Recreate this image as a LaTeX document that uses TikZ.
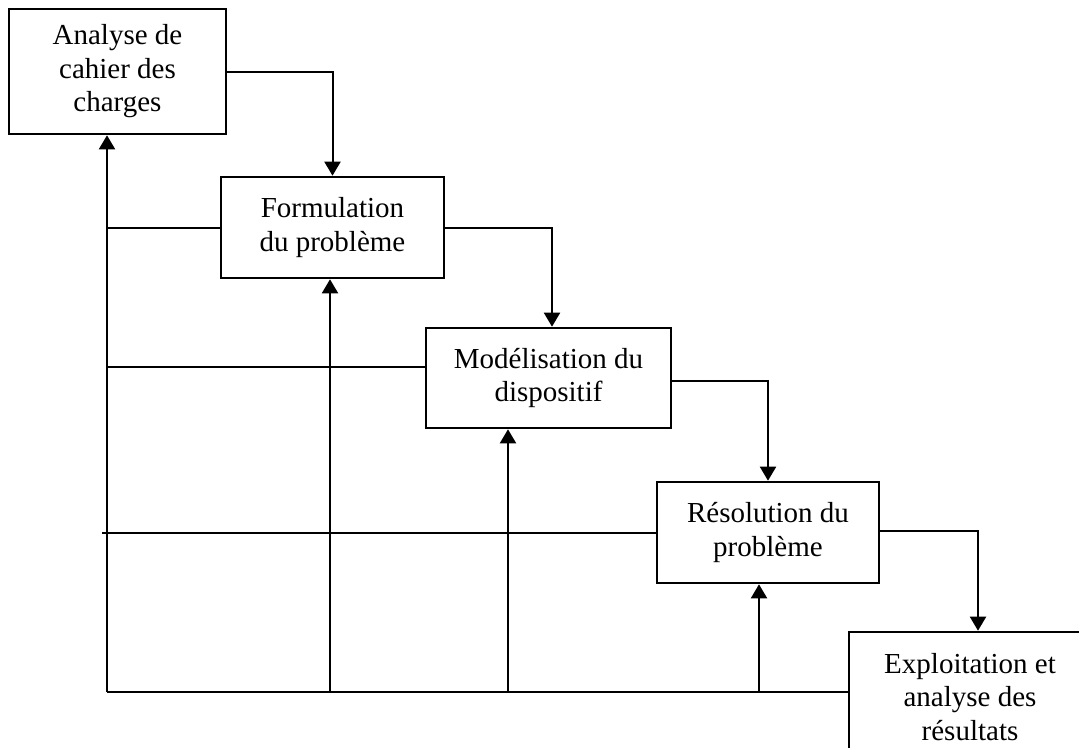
\documentclass[tikz,border=0pt]{standalone}
\usepackage{fontspec}
\setmainfont{Liberation Serif}
\usetikzlibrary{arrows.meta}

\tikzset{
  stage/.style={draw, line width=2.6pt, inner sep=0pt, align=center,
    font=\fontsize{29}{33.5}\selectfont, fill=white},
  link/.style={line width=2pt},
  arr/.style={link, -{Triangle[length=14pt, width=16pt]}}
}

\begin{document}
\begin{tikzpicture}[x=1pt, y=-1pt]
  \useasboundingbox (0,0) rectangle (1079,747);
  \clip (0,0) rectangle (1079,747);

  % process stages
  \node[stage, minimum width=217pt, minimum height=125pt] (b1) at (117.5,71.5)
    {Analyse de\\cahier des\\charges};
  \node[stage, minimum width=223pt, minimum height=101pt] (b2) at (332.5,227.5)
    {Formulation\\du problème};
  \node[stage, minimum width=245pt, minimum height=100pt] (b3) at (548.5,378)
    {Modélisation du\\dispositif};
  \node[stage, minimum width=222pt, minimum height=101pt] (b4) at (768,532.5)
    {Résolution du\\problème};
  \node[stage, minimum width=242pt, minimum height=130pt] (b5) at (970,697)
    {Exploitation et\\analyse des\\résultats};

  % forward flow
  \draw[arr] (b1.east) -| (b2.north);
  \draw[arr] (b2.east) -| ([xshift=3.5pt]b3.north);
  \draw[arr] ([yshift=-3pt]b3.east) -| (b4.north);
  \draw[arr] ([yshift=1.5pt]b4.east) -| ([xshift=8pt]b5.north);

  % feedback network
  \coordinate (spine) at (107,692);
  \coordinate (f2) at (330,692);
  \coordinate (f3) at (508,692);
  \coordinate (f4) at (759,692);

  \draw[link] (spine) -- (spine -| b5.west);
  \draw[arr] (spine) -- (spine |- b1.south);
  \draw[arr] (f2) -- (f2 |- b2.south);
  \draw[arr] (f3) -- (f3 |- b3.south);
  \draw[arr] (f4) -- (f4 |- b4.south);

  \draw[link] (spine |- b2.west) -- (b2.west);
  \draw[link] ([yshift=11pt]b3.west -| spine) -- ([yshift=11pt]b3.west);
  \draw[link] ([xshift=-5pt]b4.west -| spine) -- (b4.west);
\end{tikzpicture}
\end{document}
